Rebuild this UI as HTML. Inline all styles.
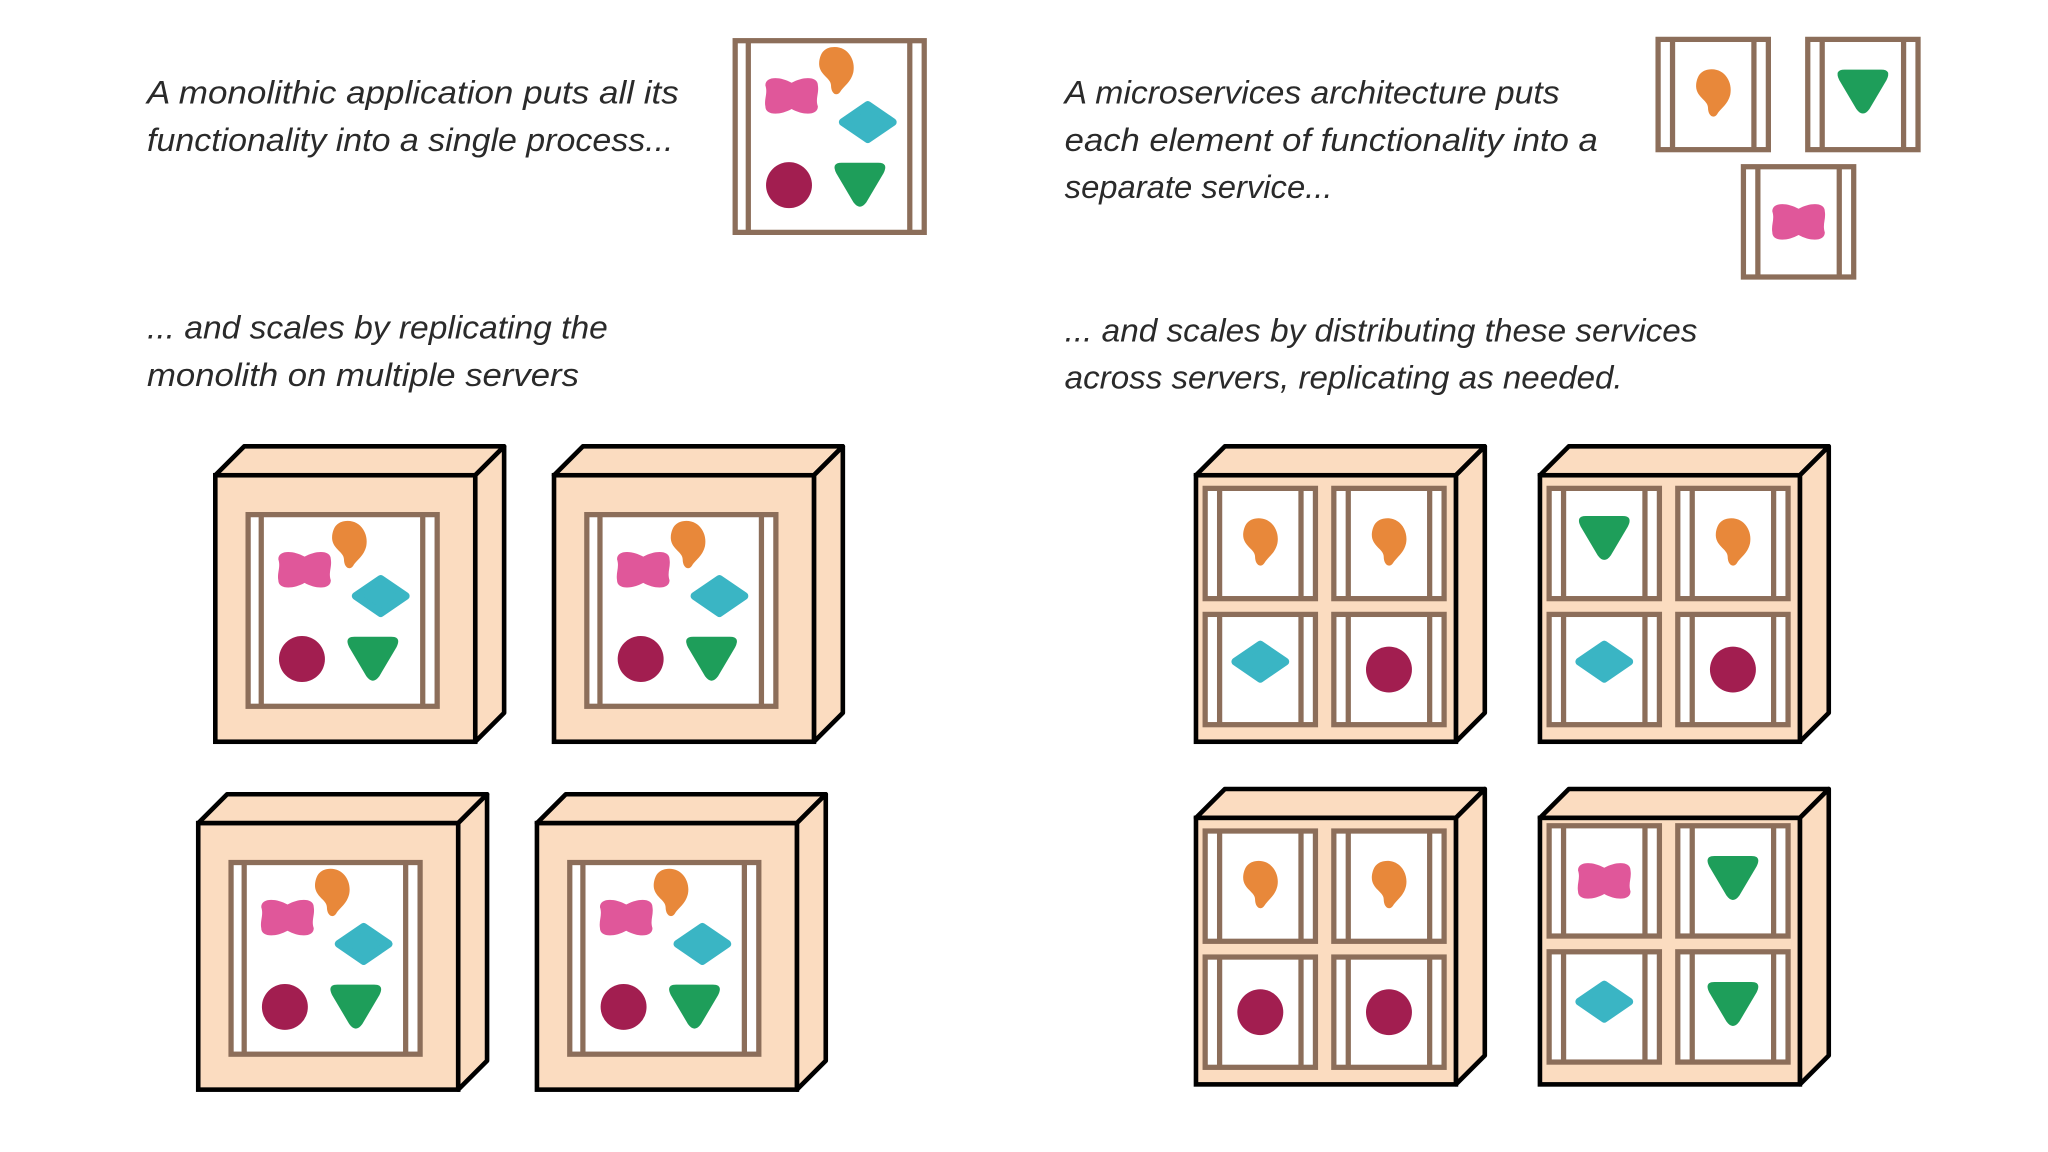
<!DOCTYPE html>
<html><head><meta charset="utf-8"><style>
html,body{margin:0;padding:0;background:#fff;}
svg{display:block;}
text{font-family:"Liberation Sans",sans-serif;font-style:italic;font-size:24.5px;fill:#2a2a2a;}
</style></head><body>
<svg width="2048" height="1152" viewBox="0 0 1560 877.5" xmlns="http://www.w3.org/2000/svg">
<defs>
<path id="orange" d="M-4,-17 C8,-19 15,-8 13,2 C11,10 6,12 3,17 C0,21 -4,18 -4,12 C-4,6 -14,4 -13,-6 C-12,-13 -9,-16 -4,-17Z" fill="#E8883A"/>
<path id="pink" d="M-20,-8 C-20,-15 -9,-15 0,-10 C9,-15 20,-15 20,-8 C21,-2 18,2 20,8 C20,15 9,15 0,10 C-9,15 -20,15 -20,8 C-21,2 -18,-2 -20,-8Z" fill="#E0579A"/>
<polygon id="teal" points="0,-13 19,0 0,13 -19,0" fill="#3AB5C4" stroke="#3AB5C4" stroke-width="6" stroke-linejoin="round"/>
<ellipse id="maroon" cx="0" cy="0" rx="17.5" ry="17.5" fill="#A21E50"/>
<path id="green" d="M-14,-17 L14,-17 Q22,-17 18,-9 L5,13 Q0,20 -5,13 L-18,-9 Q-22,-17 -14,-17Z" fill="#1E9E5A"/>
<g id="mono">
<rect x="0" y="0" width="144" height="146" fill="#fff" stroke="#8C6E5A" stroke-width="4"/>
<line x1="10" y1="0" x2="10" y2="146" stroke="#8C6E5A" stroke-width="4"/>
<line x1="133" y1="0" x2="133" y2="146" stroke="#8C6E5A" stroke-width="4"/>
<use href="#orange" x="77" y="22"/>
<use href="#pink" x="43" y="42"/>
<use href="#teal" x="101" y="62"/>
<use href="#maroon" x="41" y="110"/>
<use href="#green" x="95" y="110"/>
</g>
<g id="cell">
<rect x="0" y="0" width="84" height="84" fill="#fff" stroke="#8C6E5A" stroke-width="4"/>
<line x1="11" y1="0" x2="11" y2="84" stroke="#8C6E5A" stroke-width="4"/>
<line x1="73" y1="0" x2="73" y2="84" stroke="#8C6E5A" stroke-width="4"/>
</g>
<g id="cube">
<polygon points="0,0 22,-22 220,-22 198,0" fill="#FBDCC0" stroke="#000" stroke-width="3.5" stroke-linejoin="round"/>
<polygon points="198,0 220,-22 220,181 198,203" fill="#FBDCC0" stroke="#000" stroke-width="3.5" stroke-linejoin="round"/>
<rect x="0" y="0" width="198" height="203" fill="#FBDCC0" stroke="#000" stroke-width="3.5"/>
</g>
</defs>

<text x="112" y="79" textLength="405" lengthAdjust="spacingAndGlyphs">A monolithic application puts all its</text>
<text x="112" y="115" textLength="401" lengthAdjust="spacingAndGlyphs">functionality into a single process...</text>
<text x="112" y="258" textLength="351" lengthAdjust="spacingAndGlyphs">... and scales by replicating the</text>
<text x="112" y="294" textLength="329" lengthAdjust="spacingAndGlyphs">monolith on multiple servers</text>
<text x="811" y="79" textLength="377" lengthAdjust="spacingAndGlyphs">A microservices architecture puts</text>
<text x="811" y="115" textLength="406" lengthAdjust="spacingAndGlyphs">each element of functionality into a</text>
<text x="811" y="151" textLength="204" lengthAdjust="spacingAndGlyphs">separate service...</text>
<text x="811" y="260" textLength="482" lengthAdjust="spacingAndGlyphs">... and scales by distributing these services</text>
<text x="811" y="296" textLength="425" lengthAdjust="spacingAndGlyphs">across servers, replicating as needed.</text>

<use href="#mono" x="560" y="31"/>

<g transform="translate(1263,30)"><use href="#cell"/><use href="#orange" x="42" y="40"/></g>
<g transform="translate(1377,30)"><use href="#cell"/><use href="#green" x="42" y="40"/></g>
<g transform="translate(1328,127)"><use href="#cell"/><use href="#pink" x="42" y="42"/></g>

<g transform="translate(164,362)"><use href="#cube"/><use href="#mono" x="25" y="30"/></g>
<g transform="translate(422,362)"><use href="#cube"/><use href="#mono" x="25" y="30"/></g>
<g transform="translate(151,627)"><use href="#cube"/><use href="#mono" x="25" y="30"/></g>
<g transform="translate(409,627)"><use href="#cube"/><use href="#mono" x="25" y="30"/></g>

<g transform="translate(911,362)"><use href="#cube"/>
<g transform="translate(7,10)"><use href="#cell"/><use href="#orange" x="42" y="40"/></g>
<g transform="translate(105,10)"><use href="#cell"/><use href="#orange" x="42" y="40"/></g>
<g transform="translate(7,106)"><use href="#cell"/><use href="#teal" x="42" y="36"/></g>
<g transform="translate(105,106)"><use href="#cell"/><use href="#maroon" x="42" y="42"/></g>
</g>
<g transform="translate(1173,362)"><use href="#cube"/>
<g transform="translate(7,10)"><use href="#cell"/><use href="#green" x="42" y="38"/></g>
<g transform="translate(105,10)"><use href="#cell"/><use href="#orange" x="42" y="40"/></g>
<g transform="translate(7,106)"><use href="#cell"/><use href="#teal" x="42" y="36"/></g>
<g transform="translate(105,106)"><use href="#cell"/><use href="#maroon" x="42" y="42"/></g>
</g>
<g transform="translate(911,623)"><use href="#cube"/>
<g transform="translate(7,10)"><use href="#cell"/><use href="#orange" x="42" y="40"/></g>
<g transform="translate(105,10)"><use href="#cell"/><use href="#orange" x="42" y="40"/></g>
<g transform="translate(7,106)"><use href="#cell"/><use href="#maroon" x="42" y="42"/></g>
<g transform="translate(105,106)"><use href="#cell"/><use href="#maroon" x="42" y="42"/></g>
</g>
<g transform="translate(1173,623)"><use href="#cube"/>
<g transform="translate(7,6)"><use href="#cell"/><use href="#pink" x="42" y="42"/></g>
<g transform="translate(105,6)"><use href="#cell"/><use href="#green" x="42" y="40"/></g>
<g transform="translate(7,102)"><use href="#cell"/><use href="#teal" x="42" y="38"/></g>
<g transform="translate(105,102)"><use href="#cell"/><use href="#green" x="42" y="40"/></g>
</g>
</svg>
</body></html>
